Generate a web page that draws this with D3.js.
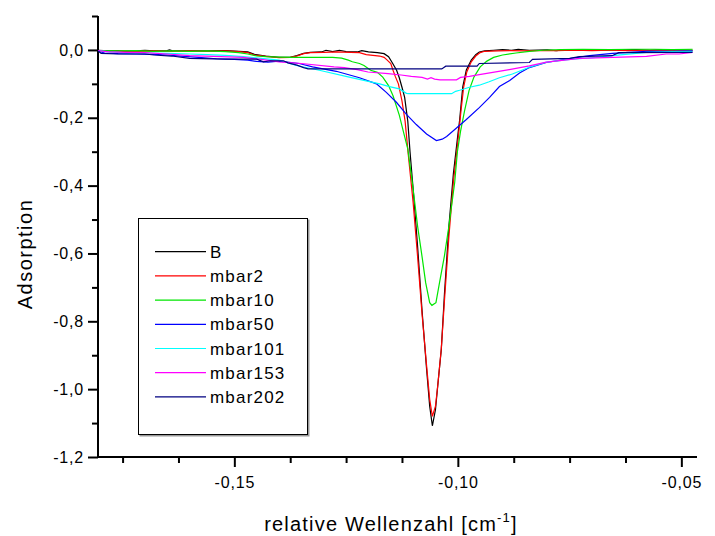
<!DOCTYPE html>
<html>
<head>
<meta charset="utf-8">
<script src="https://cdn.jsdelivr.net/npm/d3@7"></script>
<style>
  body { margin: 0; background: #fff; }
  text { font-family: "Liberation Sans", Arial, sans-serif; fill: #000; }
</style>
</head>
<body>
<div id="chart"></div>
<script>
const width = 715;
const height = 536;

// Messkurven: [relative Wellenzahl, Adsorption]
const waveB = [
  [-0.1805, -0.001], [-0.178, -0.003], [-0.176, -0.002], [-0.1745, -0.004], [-0.172, -0.003],
  [-0.170, -0.001], [-0.168, -0.003], [-0.165, -0.002], [-0.1645, 0.000], [-0.164, -0.002],
  [-0.160, -0.003], [-0.156, -0.003], [-0.152, -0.002], [-0.149, -0.004], [-0.147, -0.006],
  [-0.1455, -0.013], [-0.143, -0.018], [-0.140, -0.022], [-0.1375, -0.022], [-0.136, -0.017],
  [-0.1345, -0.010], [-0.133, -0.007], [-0.1305, -0.006], [-0.1295, -0.001], [-0.128, -0.005],
  [-0.1265, -0.001], [-0.125, -0.005], [-0.1225, -0.006], [-0.1215, -0.002], [-0.120, -0.006],
  [-0.118, -0.008], [-0.1165, -0.011], [-0.1155, -0.020], [-0.1147, -0.037], [-0.1137, -0.060],
  [-0.1131, -0.082], [-0.1125, -0.110], [-0.1119, -0.140], [-0.1112, -0.210], [-0.1107, -0.300],
  [-0.110, -0.410], [-0.109, -0.580], [-0.108, -0.770], [-0.107, -0.940], [-0.1063, -1.050],
  [-0.1057, -1.108], [-0.105, -1.060], [-0.1045, -0.990], [-0.1037, -0.883], [-0.103, -0.720],
  [-0.102, -0.520], [-0.101, -0.365], [-0.100, -0.250], [-0.0996, -0.207], [-0.0989, -0.109],
  [-0.0981, -0.059], [-0.097, -0.030], [-0.096, -0.014], [-0.0952, -0.006], [-0.094, -0.003],
  [-0.092, -0.001], [-0.090, 0.001], [-0.088, -0.001], [-0.0865, 0.002], [-0.084, -0.001],
  [-0.080, 0.000], [-0.078, -0.002], [-0.0755, 0.001], [-0.073, -0.001], [-0.070, 0.001],
  [-0.067, -0.001], [-0.064, 0.000], [-0.060, 0.001], [-0.057, -0.001], [-0.054, 0.001],
  [-0.051, 0.000], [-0.0475, -0.001]
];

const mbar2 = [
  [-0.1805, -0.002], [-0.178, -0.004], [-0.175, -0.003], [-0.172, -0.004], [-0.168, -0.003],
  [-0.164, -0.004], [-0.160, -0.003], [-0.156, -0.004], [-0.152, -0.003], [-0.149, -0.005],
  [-0.147, -0.008], [-0.1455, -0.015], [-0.143, -0.019], [-0.140, -0.023], [-0.1375, -0.022],
  [-0.136, -0.018], [-0.1345, -0.011], [-0.133, -0.008], [-0.130, -0.007], [-0.127, -0.006],
  [-0.124, -0.007], [-0.122, -0.008], [-0.1205, -0.014], [-0.119, -0.016], [-0.1175, -0.018],
  [-0.1165, -0.022], [-0.1158, -0.030], [-0.115, -0.040], [-0.1145, -0.060], [-0.114, -0.078],
  [-0.1133, -0.100], [-0.1125, -0.150], [-0.1118, -0.210], [-0.111, -0.320], [-0.110, -0.450],
  [-0.109, -0.610], [-0.108, -0.780], [-0.107, -0.930], [-0.1063, -1.030], [-0.1057, -1.080],
  [-0.105, -1.050], [-0.1045, -0.990], [-0.1037, -0.880], [-0.103, -0.740], [-0.102, -0.550],
  [-0.101, -0.390], [-0.100, -0.270], [-0.0993, -0.180], [-0.0987, -0.110], [-0.098, -0.065],
  [-0.097, -0.035], [-0.096, -0.018], [-0.095, -0.008], [-0.094, -0.004], [-0.091, -0.003],
  [-0.088, -0.002], [-0.085, -0.003], [-0.082, -0.002], [-0.078, -0.002], [-0.074, -0.001],
  [-0.070, -0.002], [-0.066, -0.001], [-0.062, -0.002], [-0.058, -0.001], [-0.054, -0.001],
  [-0.0475, -0.001]
];

const mbar10 = [
  [-0.1805, -0.002], [-0.176, -0.003], [-0.172, -0.002], [-0.168, -0.004], [-0.164, -0.003],
  [-0.160, -0.004], [-0.156, -0.003], [-0.152, -0.005], [-0.149, -0.008], [-0.147, -0.012],
  [-0.145, -0.018], [-0.143, -0.020], [-0.140, -0.021], [-0.136, -0.022], [-0.132, -0.022],
  [-0.128, -0.022], [-0.126, -0.024], [-0.1245, -0.030], [-0.1236, -0.035], [-0.122, -0.040],
  [-0.121, -0.046], [-0.1195, -0.060], [-0.118, -0.066], [-0.1168, -0.080], [-0.1155, -0.105],
  [-0.1145, -0.135], [-0.1131, -0.192], [-0.1121, -0.245], [-0.1112, -0.292], [-0.1101, -0.400],
  [-0.109, -0.520], [-0.108, -0.610], [-0.1072, -0.686], [-0.1063, -0.745], [-0.1058, -0.753],
  [-0.1049, -0.745], [-0.1041, -0.686], [-0.103, -0.607], [-0.102, -0.519], [-0.1007, -0.390],
  [-0.1001, -0.300], [-0.0994, -0.240], [-0.0985, -0.180], [-0.0975, -0.120], [-0.0964, -0.080],
  [-0.095, -0.050], [-0.0935, -0.033], [-0.092, -0.022], [-0.090, -0.015], [-0.087, -0.009],
  [-0.084, -0.004], [-0.081, -0.001], [-0.077, 0.001], [-0.072, 0.002], [-0.066, 0.001],
  [-0.061, 0.002], [-0.056, 0.002], [-0.052, 0.001], [-0.0475, 0.002]
];

const mbar50 = [
  [-0.1805, -0.004], [-0.179, -0.009], [-0.176, -0.011], [-0.172, -0.012], [-0.168, -0.013],
  [-0.165, -0.015], [-0.162, -0.018], [-0.158, -0.022], [-0.154, -0.026], [-0.150, -0.028],
  [-0.147, -0.030], [-0.145, -0.034], [-0.1425, -0.036], [-0.140, -0.033], [-0.1355, -0.040],
  [-0.1325, -0.050], [-0.1272, -0.063], [-0.122, -0.082], [-0.1182, -0.100], [-0.116, -0.125],
  [-0.1137, -0.155], [-0.1115, -0.190], [-0.1093, -0.220], [-0.107, -0.248], [-0.1048, -0.267],
  [-0.1035, -0.263], [-0.1025, -0.255], [-0.1003, -0.230], [-0.0981, -0.205], [-0.0952, -0.170],
  [-0.0929, -0.140], [-0.0907, -0.108], [-0.0884, -0.090], [-0.0862, -0.068], [-0.0840, -0.052],
  [-0.0802, -0.037], [-0.0757, -0.027], [-0.0705, -0.017], [-0.0654, -0.010], [-0.0616, -0.007],
  [-0.0578, -0.004], [-0.052, -0.004], [-0.0475, -0.003]
];

const mbar101 = [
  [-0.1805, -0.002], [-0.178, -0.006], [-0.175, -0.008], [-0.170, -0.009], [-0.165, -0.010],
  [-0.160, -0.012], [-0.156, -0.014], [-0.152, -0.016], [-0.148, -0.020], [-0.144, -0.025],
  [-0.140, -0.030], [-0.1361, -0.046], [-0.131, -0.060], [-0.1243, -0.080], [-0.1175, -0.100],
  [-0.1153, -0.108], [-0.1131, -0.115], [-0.1115, -0.128], [-0.111, -0.129], [-0.1014, -0.129],
  [-0.1005, -0.122], [-0.0996, -0.119], [-0.0974, -0.110], [-0.0952, -0.104], [-0.093, -0.094],
  [-0.0907, -0.082], [-0.0878, -0.071], [-0.084, -0.051], [-0.0802, -0.036], [-0.0743, -0.027],
  [-0.069, -0.022], [-0.0654, -0.017], [-0.0578, -0.007], [-0.052, -0.005], [-0.0475, -0.004]
];

const mbar153 = [
  [-0.1805, -0.002], [-0.178, -0.006], [-0.174, -0.007], [-0.170, -0.008], [-0.165, -0.012],
  [-0.160, -0.017], [-0.153, -0.020], [-0.148, -0.022], [-0.144, -0.028], [-0.140, -0.035],
  [-0.135, -0.040], [-0.1277, -0.050], [-0.1254, -0.052], [-0.1225, -0.058], [-0.1201, -0.065],
  [-0.1156, -0.070], [-0.1127, -0.074], [-0.1104, -0.078], [-0.108, -0.081], [-0.1068, -0.086],
  [-0.106, -0.082], [-0.1052, -0.086], [-0.104, -0.088], [-0.1003, -0.088], [-0.0994, -0.081],
  [-0.0974, -0.078], [-0.0952, -0.073], [-0.0885, -0.058], [-0.084, -0.047], [-0.0802, -0.036],
  [-0.0728, -0.025], [-0.0654, -0.022], [-0.0578, -0.019], [-0.0534, -0.012], [-0.0505, -0.012],
  [-0.0475, -0.007]
];

const mbar202 = [
  [-0.1805, -0.003], [-0.1798, -0.010], [-0.176, -0.012], [-0.170, -0.012], [-0.168, -0.015],
  [-0.164, -0.018], [-0.160, -0.025], [-0.152, -0.027], [-0.145, -0.027], [-0.1435, -0.035],
  [-0.142, -0.032], [-0.139, -0.032], [-0.138, -0.038], [-0.136, -0.045], [-0.1345, -0.052],
  [-0.1335, -0.056], [-0.1036, -0.056], [-0.1027, -0.048], [-0.0957, -0.048], [-0.0952, -0.040],
  [-0.084, -0.037], [-0.0833, -0.028], [-0.075, -0.025], [-0.0728, -0.020], [-0.0655, -0.017],
  [-0.0640, -0.008], [-0.0475, -0.007]
];

const seriesNames = ["B", "mbar2", "mbar10", "mbar50", "mbar101", "mbar153", "mbar202"];
const seriesData = [waveB, mbar2, mbar10, mbar50, mbar101, mbar153, mbar202];
const seriesColors = ["#000000", "#ff0000", "#00e600", "#0000ff", "#00ffff", "#ff00ff", "#000080"];

const xMajor = [-0.15, -0.10, -0.05];
const xMinor = [-0.175, -0.1625, -0.1375, -0.125, -0.1125, -0.0875, -0.075, -0.0625];
const yMajor = [0, -0.2, -0.4, -0.6, -0.8, -1.0, -1.2];
const yMinor = [0.1, -0.1, -0.3, -0.5, -0.7, -0.9, -1.1];

const plotLeft = 98, plotRight = 697, plotTop = 16, plotBottom = 457;

let svg = d3.select("#chart").append("svg")
    .attr("width", width)
    .attr("height", height);

let xScale = d3.scaleLinear()
    .domain([-0.1805, -0.0465])
    .range([plotLeft, plotRight]);

let yScale = d3.scaleLinear()
    .domain([-1.2, 0.1])
    .range([plotBottom, plotTop]);

const fmtX = d => d.toFixed(2).replace(".", ",");
const fmtY = d => (d === 0 ? 0 : d).toFixed(1).replace(".", ",");

// Achsen
svg.append("g")
    .attr("transform", `translate(0,${plotBottom})`)
    .call(d3.axisBottom(xScale).tickValues(xMajor).tickFormat(fmtX).tickSize(10).tickPadding(10));
svg.append("g")
    .attr("transform", `translate(0,${plotBottom})`)
    .call(d3.axisBottom(xScale).tickValues(xMinor).tickFormat("").tickSize(6).tickSizeOuter(0));

svg.append("g")
    .attr("transform", `translate(${plotLeft},0)`)
    .call(d3.axisLeft(yScale).tickValues(yMajor).tickFormat(fmtY).tickSize(10).tickPadding(4));
svg.append("g")
    .attr("transform", `translate(${plotLeft},0)`)
    .call(d3.axisLeft(yScale).tickValues(yMinor).tickFormat("").tickSize(6).tickSizeOuter(0));

svg.selectAll(".domain").remove();
svg.selectAll(".tick line").attr("stroke", "#000").attr("stroke-width", 2);
svg.selectAll(".tick text")
    .style("font-size", "16px")
    .style("letter-spacing", "0.8px")
    .style("font-family", "'Liberation Sans', Arial, sans-serif");

svg.append("line")
    .attr("x1", plotLeft).attr("x2", plotRight)
    .attr("y1", plotBottom).attr("y2", plotBottom)
    .attr("stroke", "#000").attr("stroke-width", 2);
svg.append("line")
    .attr("x1", plotLeft).attr("x2", plotLeft)
    .attr("y1", plotTop).attr("y2", plotBottom + 1)
    .attr("stroke", "#000").attr("stroke-width", 2);

// Achsentitel
let xTitle = svg.append("text")
    .attr("x", 391)
    .attr("y", 531)
    .attr("text-anchor", "middle")
    .style("font-size", "20px")
    .style("letter-spacing", "1.2px");
xTitle.append("tspan").text("relative Wellenzahl [cm");
xTitle.append("tspan").attr("dy", -9).style("font-size", "13px").text("-1");
xTitle.append("tspan").attr("dy", 9).text("]");

svg.append("text")
    .attr("transform", "translate(32,254) rotate(-90)")
    .attr("text-anchor", "middle")
    .style("font-size", "20px")
    .style("letter-spacing", "1.5px")
    .text("Adsorption");

// Kurven
let line = d3.line()
    .x(d => xScale(d[0]))
    .y(d => yScale(d[1]));

svg.append("g")
    .selectAll("path")
    .data(seriesData)
    .enter()
    .append("path")
    .attr("d", d => line(d))
    .attr("fill", "none")
    .attr("stroke", (d, i) => seriesColors[i])
    .attr("stroke-width", 1.2);

// Legende
let legend = svg.append("g");
legend.append("rect")
    .attr("x", 139.5).attr("y", 219.5)
    .attr("width", 170).attr("height", 217)
    .attr("fill", "#999");
legend.append("rect")
    .attr("x", 138.5).attr("y", 218.5)
    .attr("width", 169).attr("height", 216)
    .attr("fill", "#fff")
    .attr("stroke", "#000")
    .attr("stroke-width", 1);

let rows = legend.selectAll(".row")
    .data(seriesNames)
    .enter()
    .append("g")
    .attr("class", "row")
    .attr("transform", (d, i) => `translate(0,${251.7 + i * 24.2})`);

rows.append("line")
    .attr("x1", 155).attr("x2", 206)
    .attr("y1", 0).attr("y2", 0)
    .attr("stroke", (d, i) => seriesColors[i])
    .attr("stroke-width", 1.2);

rows.append("text")
    .attr("x", 210)
    .attr("y", 6)
    .style("font-size", "17px")
    .style("letter-spacing", "1.2px")
    .text(d => d);
</script>
</body>
</html>
